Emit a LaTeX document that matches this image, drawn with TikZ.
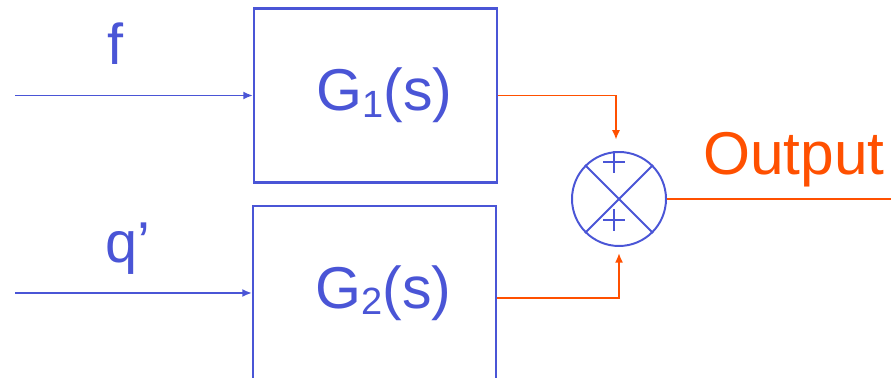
\documentclass[tikz,border=0pt]{standalone}
\usepackage{fontspec}
\setmainfont{Liberation Sans}
\usetikzlibrary{arrows.meta,positioning,calc}
\definecolor{wire}{HTML}{4A55D6}
\definecolor{hot}{HTML}{FF5000}
\newcommand\lowidx[1]{\raisebox{-0.16cm}{\fontsize{27}{29}\selectfont #1}}

\begin{document}
\begin{tikzpicture}[>={Latex[length=0.24cm,width=0.2cm]}]
\tikzset{blk/.style={draw=wire,line width=1.5pt,minimum width=6.075cm,minimum height=4.35cm,inner sep=0pt,text=wire,font=\fontsize{42}{46}\selectfont},
  sig/.style={->,draw=wire,line width=1.3pt},
  fb/.style={->,draw=hot,line width=1.4pt},
  lbl/.style={text=wire,font=\fontsize{41}{45}\selectfont,inner sep=0pt,anchor=base}}
\useasboundingbox (0,0) rectangle (22.275,9.45);
% transfer blocks
\node[blk] (g1) at (9.3875,7.0625) {\hspace*{0.45cm}G\lowidx{1}(s)};
\node[blk] (g2) at (9.3625,2.125) {\hspace*{0.45cm}G\lowidx{2}(s)};
% inputs
\coordinate (in1) at (0.375,7.0625);
\coordinate (in2) at (0.375,2.125);
\draw[sig] (in1) -- (g1.west);
\draw[sig] (in2) -- (g2.west);
\node[lbl] (f) at (2.9,7.825) {f};
\node[lbl] (q) at (3.2,2.875) {q’};
% summing point
\node[draw=wire,line width=1.4pt,circle,minimum size=2.35cm,inner sep=0pt] (sum) at (15.475,4.475) {};
\draw[draw=wire,line width=1.4pt] (sum.45) -- (sum.225) (sum.135) -- (sum.315);
\coordinate (p1) at ($(sum.center)+(-0.125,0.925)$);
\coordinate (p2) at ($(sum.center)+(-0.125,-0.525)$);
\draw[draw=wire,line width=1.4pt] ([xshift=-0.275cm]p1) -- ([xshift=0.275cm]p1) ([yshift=-0.27cm]p1) -- ([yshift=0.27cm]p1);
\draw[draw=wire,line width=1.4pt] ([xshift=-0.275cm]p2) -- ([xshift=0.275cm]p2) ([yshift=-0.27cm]p2) -- ([yshift=0.27cm]p2);
\draw[fb] (g1.east) -| ([xshift=-0.075cm,yshift=0.28cm]sum.north);
\draw[fb] ([yshift=-0.125cm]g2.east) -| ([yshift=-0.15cm]sum.south);
% output
\coordinate (out1) at (22.275,4.475);
\draw[draw=hot,line width=1.4pt] (sum.east) -- (out1);
\node[text=hot,font=\fontsize{43}{48}\selectfont,inner sep=0pt,anchor=base] (lab) at (19.85,5.075) {Output};
\end{tikzpicture}
\end{document}
